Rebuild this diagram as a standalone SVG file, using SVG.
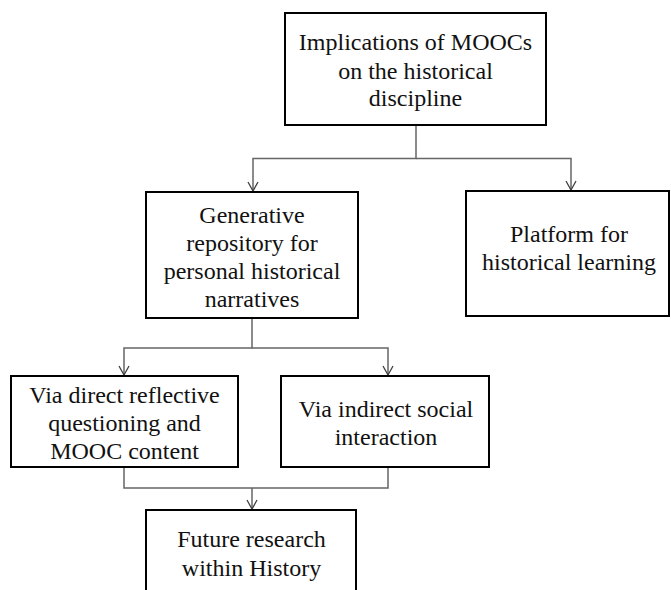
<svg xmlns="http://www.w3.org/2000/svg" width="671" height="590" viewBox="0 0 671 590">
<defs>
<marker id="arr" viewBox="0 0 12 12" refX="11" refY="6" markerWidth="12" markerHeight="12" markerUnits="userSpaceOnUse" orient="auto">
<path d="M2,1 L11,6 L2,11" fill="none" stroke="#404040" stroke-width="1.3"/>
</marker>
<style>
.box{fill:#fff;stroke:#000;stroke-width:2}
.lbl{font-family:'Liberation Serif','DejaVu Serif',Tinos,Times,serif;font-size:24px;fill:#111;text-anchor:middle}
.con{fill:none;stroke:#666;stroke-width:1.5}
</style>
</defs>
<rect width="671" height="590" fill="#fff"/>
<g id="connectors">
<path class="con" d="M416,125 V158.5 H253 V191" marker-end="url(#arr)"/>
<path class="con" d="M416,158.5 H571 V190" marker-end="url(#arr)"/>
<path class="con" d="M252,318 V348 H124 V375" marker-end="url(#arr)"/>
<path class="con" d="M252,348 H388 V375" marker-end="url(#arr)"/>
<path class="con" d="M124,467 V488 H388 V467"/>
<path class="con" d="M252,488 V509" marker-end="url(#arr)"/>
</g>
<g id="n1">
<rect class="box" x="285" y="13" width="261" height="112"/>
<text class="lbl" x="415.5" y="50">Implications of MOOCs</text>
<text class="lbl" x="415.5" y="79">on the historical</text>
<text class="lbl" x="415.5" y="106">discipline</text>
</g>
<g id="n2">
<rect class="box" x="146" y="192" width="212" height="126"/>
<text class="lbl" x="252" y="223">Generative</text>
<text class="lbl" x="252" y="251">repository for</text>
<text class="lbl" x="252" y="279">personal historical</text>
<text class="lbl" x="252" y="307">narratives</text>
</g>
<g id="n3">
<rect class="box" x="466" y="191" width="203" height="125"/>
<text class="lbl" x="569" y="242">Platform for</text>
<text class="lbl" x="569" y="270">historical learning</text>
</g>
<g id="n4">
<rect class="box" x="11" y="376" width="227" height="91"/>
<text class="lbl" x="124.5" y="403">Via direct reflective</text>
<text class="lbl" x="124.5" y="431">questioning and</text>
<text class="lbl" x="124.5" y="459">MOOC content</text>
</g>
<g id="n5">
<rect class="box" x="281" y="376" width="208" height="91"/>
<text class="lbl" x="386" y="417">Via indirect social</text>
<text class="lbl" x="386" y="445">interaction</text>
</g>
<g id="n6">
<rect class="box" x="146" y="510" width="210" height="100"/>
<text class="lbl" x="251.5" y="547">Future research</text>
<text class="lbl" x="251.5" y="576">within History</text>
</g>
</svg>
